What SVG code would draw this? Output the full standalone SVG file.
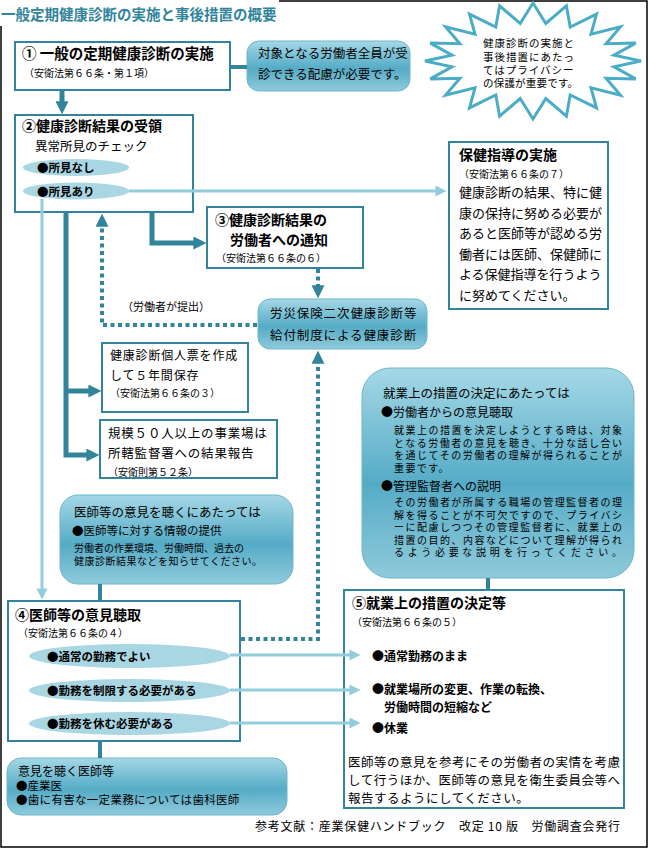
<svg xmlns="http://www.w3.org/2000/svg" width="649" height="849" viewBox="0 0 649 849">
<defs>
<linearGradient id="g" x1="0" y1="0" x2="0" y2="1">
<stop offset="0" stop-color="#a5d8e6"/>
<stop offset="0.55" stop-color="#55abc6"/>
<stop offset="1" stop-color="#8fcadb"/>
</linearGradient>
<marker id="aT" viewBox="0 0 10 10" markerWidth="13" markerHeight="13" refX="0.5" refY="5" orient="auto" markerUnits="userSpaceOnUse">
<path d="M0,0 L10,5 L0,10 z" fill="#31849b"/>
</marker>
<marker id="aL" viewBox="0 0 10 10" markerWidth="12" markerHeight="11" refX="0.5" refY="5" orient="auto" markerUnits="userSpaceOnUse">
<path d="M0,0 L10,5 L0,10 z" fill="#92cddc"/>
</marker>
<style>
text{font-family:"Noto Sans CJK JP","Noto Sans",sans-serif;fill:#000}
.box{fill:#fff;stroke:#31849b;stroke-width:2}
.call{fill:url(#g);stroke:#6cb6cc;stroke-width:1}
.pill{fill:#a9d6e3}
.thick{fill:none;stroke:#31849b;stroke-width:5}
.mid{fill:none;stroke:#31849b;stroke-width:4}
.light{fill:none;stroke:#92cddc;stroke-width:3}
.dot{fill:none;stroke:#31849b;stroke-width:4;stroke-dasharray:4 3.5}
.t14{font-size:14px;font-weight:bold}
.s10{font-size:10px}
</style>
</defs>
<rect x="1" y="1" width="646" height="846" fill="#fff" stroke="#000" stroke-width="1.5"/>
<rect x="0" y="0" width="279" height="26" fill="#fff"/>
<text x="1" y="20" style="font-size:14.5px;font-weight:bold;fill:#31849b">一般定期健康診断の実施と事後措置の概要</text>

<g id="step1">
<rect class="box" x="15" y="42" width="215" height="48"/>
<text x="22" y="58.5" style="font-size:14.5px;font-weight:bold">① 一般の定期健康診断の実施</text>
<text x="24" y="77" class="s10">（安衛法第６６条・第１項）</text>
</g>

<g id="note1">
<rect class="call" x="247" y="41" width="163" height="50" rx="12"/>
<text x="258" y="58" style="font-size:12.5px">対象となる労働者全員が受</text>
<text x="258" y="79" style="font-size:12.5px">診できる配慮が必要です。</text>
</g>

<g id="privacy">
<polygon fill="#fff" stroke="#4bacc6" stroke-width="3" stroke-linejoin="miter" points="641,61 614,66.9 635.7,78.9 606.1,78.3 620.4,95.1 591,87.9 596.5,107.9 570.2,94.9 566.4,116.2 545.8,98.5 533,119 520.2,98.5 499.6,116.2 495.8,94.9 469.5,107.9 475,87.9 445.6,95.1 459.9,78.3 430.3,78.9 452,66.9 425,61 452,55.1 430.3,43.1 459.9,43.7 445.6,26.9 475,34.1 469.5,14.1 495.8,27.1 499.6,5.8 520.2,23.5 533,3 545.8,23.5 566.4,5.8 570.2,27.1 596.5,14.1 591,34.1 620.4,26.9 606.1,43.7 635.7,43.1 614,55.1"/>
<text x="483" y="47" style="font-size:10.5px;letter-spacing:1px">健康診断の実施と</text>
<text x="483" y="61" style="font-size:10.5px;letter-spacing:1px">事後措置にあたっ</text>
<text x="483" y="74" style="font-size:10.5px;letter-spacing:1px">てはプライバシー</text>
<text x="483" y="87" style="font-size:10.5px;letter-spacing:0.2px">の保護が重要です。</text>
</g>

<g id="step2">
<rect class="box" x="15" y="115" width="178" height="97"/>
<text x="22" y="131" class="t14">②健康診断結果の受領</text>
<text x="35" y="151" style="font-size:12.5px">異常所見のチェック</text>
<ellipse class="pill" cx="76" cy="167.5" rx="53" ry="8.5"/>
<text x="37" y="171.5" style="font-size:11.5px;font-weight:bold">●所見なし</text>
<ellipse class="pill" cx="76" cy="191" rx="53" ry="8.5"/>
<text x="37" y="195.5" style="font-size:11.5px;font-weight:bold">●所見あり</text>
</g>

<g id="guidance">
<rect class="box" x="449" y="142" width="159" height="167"/>
<text x="459" y="160" class="t14">保健指導の実施</text>
<text x="459" y="178" class="s10">（安衛法第６６条の７）</text>
<text x="459" y="197" style="font-size:13px">健康診断の結果、特に健</text>
<text x="459" y="217.5" style="font-size:13px">康の保持に努める必要が</text>
<text x="459" y="238" style="font-size:13px">あると医師等が認める労</text>
<text x="459" y="258.5" style="font-size:13px">働者には医師、保健師に</text>
<text x="459" y="279" style="font-size:13px">よる保健指導を行うよう</text>
<text x="459" y="299.5" style="font-size:13px">に努めてください。</text>
</g>

<g id="step3">
<rect class="box" x="207" y="207" width="156" height="61"/>
<text x="215" y="225" class="t14">③健康診断結果の</text>
<text x="230" y="245" class="t14">労働者への通知</text>
<text x="216" y="262" class="s10">（安衛法第６６条の６）</text>
</g>

<g id="rousai">
<rect class="call" x="258" y="299" width="169" height="50" rx="12"/>
<text x="270" y="318" style="font-size:12.5px;letter-spacing:0.9px">労災保険二次健康診断等</text>
<text x="270" y="340" style="font-size:12.5px;letter-spacing:0.9px">給付制度による健康診断</text>
</g>

<g id="record">
<rect class="box" x="102" y="343" width="146" height="69"/>
<text x="110" y="359.5" style="font-size:12px;letter-spacing:0.8px">健康診断個人票を作成</text>
<text x="110" y="379.5" style="font-size:12px;letter-spacing:0.8px">して５年間保存</text>
<text x="110" y="397" class="s10">（安衛法第６６条の３）</text>
</g>

<g id="report">
<rect class="box" x="100" y="420" width="177" height="58"/>
<text x="108" y="437.5" style="font-size:12.5px;letter-spacing:0.8px">規模５０人以上の事業場は</text>
<text x="108" y="457.5" style="font-size:12.5px;letter-spacing:0.8px">所轄監督署への結果報告</text>
<text x="108" y="476" class="s10">（安衛則第５２条）</text>
</g>

<g id="measures-note">
<rect class="call" x="362" y="368" width="272" height="210" rx="28"/>
<text x="383" y="397.5" style="font-size:12.5px">就業上の措置の決定にあたっては</text>
<text x="381" y="416.5" style="font-size:12px">●労働者からの意見聴取</text>
<text x="394" y="434" style="font-size:10px" textLength="228" lengthAdjust="spacing">就業上の措置を決定しようとする時は、対象</text>
<text x="394" y="446.5" style="font-size:10px" textLength="228" lengthAdjust="spacing">となる労働者の意見を聴き、十分な話し合い</text>
<text x="394" y="459" style="font-size:10px" textLength="228" lengthAdjust="spacing">を通じてその労働者の理解が得られることが</text>
<text x="394" y="471.5" style="font-size:10px;letter-spacing:1.4px">重要です。</text>
<text x="381" y="490.5" style="font-size:12px">●管理監督者への説明</text>
<text x="394" y="506" style="font-size:10px" textLength="228" lengthAdjust="spacing">その労働者が所属する職場の管理監督者の理</text>
<text x="394" y="518.5" style="font-size:10px" textLength="228" lengthAdjust="spacing">解を得ることが不可欠ですので、プライバシ</text>
<text x="394" y="531" style="font-size:10px" textLength="228" lengthAdjust="spacing">ーに配慮しつつその管理監督者に、就業上の</text>
<text x="394" y="543.5" style="font-size:10px" textLength="228" lengthAdjust="spacing">措置の目的、内容などについて理解が得られ</text>
<text x="394" y="556" style="font-size:10px" textLength="228" lengthAdjust="spacing">るよう必要な説明を行ってください。</text>
</g>

<g id="doctor-note">
<rect class="call" x="60" y="495" width="233" height="89" rx="18"/>
<text x="74" y="516.5" style="font-size:12.5px">医師等の意見を聴くにあたっては</text>
<text x="72" y="535" style="font-size:11.5px">●医師等に対する情報の提供</text>
<text x="74" y="552" style="font-size:10px">労働者の作業環境、労働時間、過去の</text>
<text x="74" y="565" style="font-size:10px;letter-spacing:0.5px">健康診断結果などを知らせてください。</text>
</g>

<g id="step4">
<rect class="box" x="8" y="601" width="232" height="140"/>
<text x="15" y="620" class="t14">④医師等の意見聴取</text>
<text x="18" y="637" class="s10">（安衛法第６６条の４）</text>
<ellipse class="pill" cx="129.5" cy="656" rx="100.5" ry="12"/>
<text x="47" y="660.5" style="font-size:11.5px;font-weight:bold">●通常の勤務でよい</text>
<ellipse class="pill" cx="129.5" cy="690.5" rx="100.5" ry="11.5"/>
<text x="47" y="695" style="font-size:11.5px;font-weight:bold">●勤務を制限する必要がある</text>
<ellipse class="pill" cx="129.5" cy="723.5" rx="100.5" ry="11.5"/>
<text x="47" y="728" style="font-size:11.5px;font-weight:bold">●勤務を休む必要がある</text>
</g>

<g id="step5">
<rect class="box" x="344" y="590" width="280" height="218"/>
<text x="352" y="608" class="t14">⑤就業上の措置の決定等</text>
<text x="352" y="626" class="s10">（安衛法第６６条の５）</text>
<text x="372" y="660.5" style="font-size:12px;font-weight:bold">●通常勤務のまま</text>
<text x="372" y="693.5" style="font-size:12px;font-weight:bold">●就業場所の変更、作業の転換、</text>
<text x="384" y="711.5" style="font-size:12px;font-weight:bold">労働時間の短縮など</text>
<text x="372" y="732.5" style="font-size:12px;font-weight:bold">●休業</text>
<text x="348" y="766.5" style="font-size:12.5px" textLength="272" lengthAdjust="spacing">医師等の意見を参考にその労働者の実情を考慮</text>
<text x="348" y="784.5" style="font-size:12.5px" textLength="272" lengthAdjust="spacing">して行うほか、医師等の意見を衛生委員会等へ</text>
<text x="348" y="802.5" style="font-size:12.5px;letter-spacing:0.5px">報告するようにしてください。</text>
</g>

<g id="doctors">
<rect class="call" x="7" y="758" width="280" height="57" rx="14"/>
<text x="18" y="775.5" style="font-size:12px">意見を聴く医師等</text>
<text x="16" y="790" style="font-size:11.5px">●産業医</text>
<text x="16" y="803.5" style="font-size:11.5px;letter-spacing:0.3px">●歯に有害な一定業務については歯科医師</text>
</g>

<g id="connectors">
<path class="thick" d="M62,90 V102" marker-end="url(#aT)"/>
<path class="mid" d="M230,67 H247"/>
<path class="thick" d="M152,213 V243 H194" marker-end="url(#aT)"/>
<path class="thick" d="M66,213 V455 H87" marker-end="url(#aT)"/>
<path class="thick" d="M66,391 H89" marker-end="url(#aT)"/>
<path class="light" d="M129,191 H436" marker-end="url(#aL)"/>
<path class="light" d="M42,199 V589" marker-end="url(#aL)"/>
<path class="dot" d="M318,269 V286" marker-end="url(#aT)"/>
<path class="dot" d="M257,325 H102 V226" marker-end="url(#aT)"/>
<path class="dot" d="M241,639 H318 V363" marker-end="url(#aT)"/>
<path class="mid" d="M488,578 V589"/>
<path class="mid" d="M100,584 V600"/>
<path class="mid" d="M100,742 V758"/>
<path class="light" d="M230,655 H350" marker-end="url(#aL)"/>
<path class="light" d="M230,690 H350" marker-end="url(#aL)"/>
<path class="light" d="M230,723 H350" marker-end="url(#aL)"/>
<text x="122" y="311" style="font-size:11px">（労働者が提出）</text>
</g>

<text x="255" y="831" style="font-size:12px" textLength="365" lengthAdjust="spacing">参考文献：産業保健ハンドブック　改定 10 版　労働調査会発行</text>
</svg>
